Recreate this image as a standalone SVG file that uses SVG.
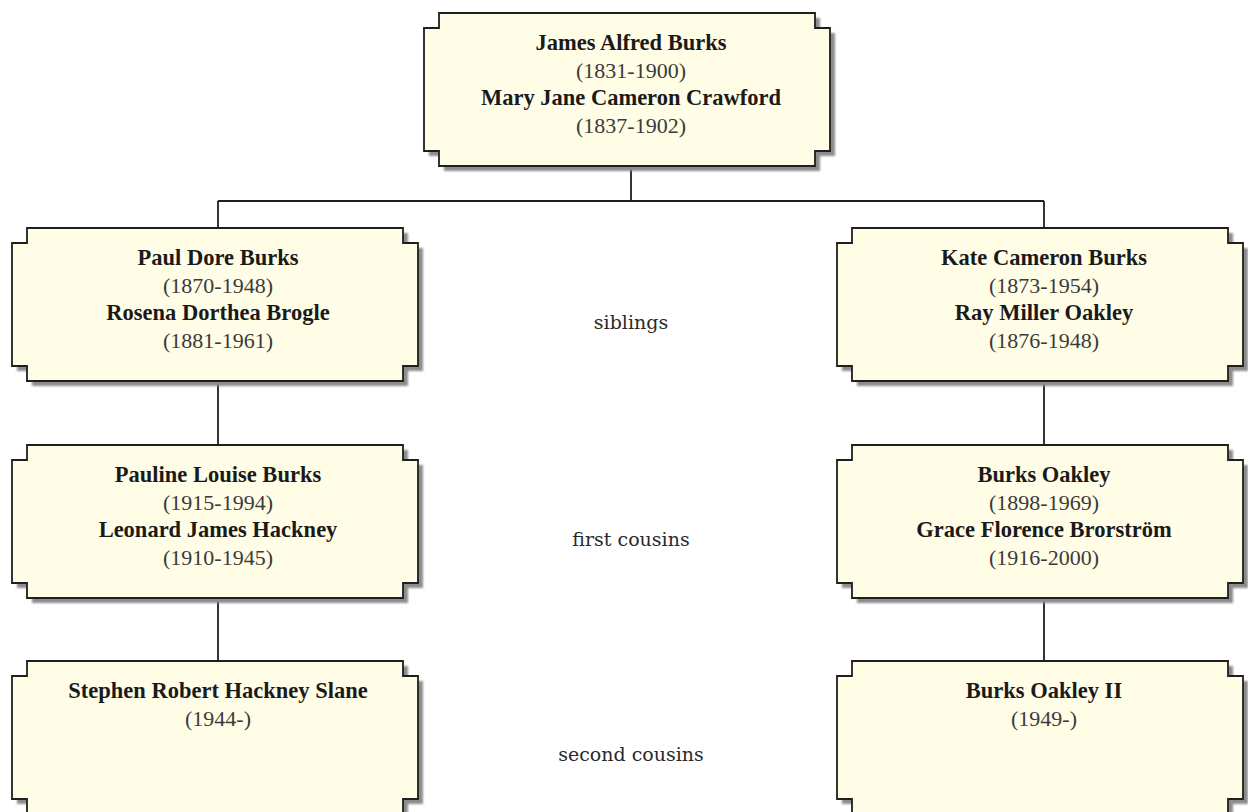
<svg xmlns="http://www.w3.org/2000/svg" width="1248" height="812" viewBox="0 0 1248 812">
<style>
.box{fill:#fffde6;stroke:#1e1e1e;stroke-width:1.8}
.shadow{fill:#8c8c8c;filter:url(#blur)}
.name{font-family:"Liberation Serif","Times New Roman",serif;font-weight:bold;font-size:22.5px;fill:#1a1a1a;text-anchor:middle}
.date{font-family:"Liberation Serif","Times New Roman",serif;font-size:22px;fill:#3a3a3a;text-anchor:middle}
.rel{font-family:"DejaVu Serif",serif;font-size:19px;fill:#2a2a2a;text-anchor:middle}
.conn{stroke:#1e1e1e;stroke-width:1.8;fill:none}
</style>
<defs>
<filter id="blur" x="-5%" y="-5%" width="110%" height="110%"><feGaussianBlur stdDeviation="1"/></filter>
<path id="shape" d="M15,0 H391 V15 H406 V138 H391 V153 H15 V138 H0 V15 H15 Z"/>
</defs>
<rect width="1248" height="812" fill="#ffffff"/>
<g id="connectors">
<path class="conn" d="M631,166 V201 M218,201 H1044 M218,201 V228 M1044,201 V228"/>
<path class="conn" d="M218,381 V445 M218,598 V661"/>
<path class="conn" d="M1044,381 V445 M1044,598 V661"/>
</g>
<g id="n-top" transform="translate(424,13)">
<use href="#shape" class="shadow" x="5" y="5"/>
<use href="#shape" class="box"/>
<text class="name" x="207" y="37">James Alfred Burks</text>
<text class="date" x="207" y="65">(1831-1900)</text>
<text class="name" x="207" y="92">Mary Jane Cameron Crawford</text>
<text class="date" x="207" y="120">(1837-1902)</text>
</g>
<g id="n-paul" transform="translate(12,228)">
<use href="#shape" class="shadow" x="5" y="5"/>
<use href="#shape" class="box"/>
<text class="name" x="206" y="37">Paul Dore Burks</text>
<text class="date" x="206" y="65">(1870-1948)</text>
<text class="name" x="206" y="92">Rosena Dorthea Brogle</text>
<text class="date" x="206" y="120">(1881-1961)</text>
</g>
<g id="n-kate" transform="translate(837,228)">
<use href="#shape" class="shadow" x="5" y="5"/>
<use href="#shape" class="box"/>
<text class="name" x="207" y="37">Kate Cameron Burks</text>
<text class="date" x="207" y="65">(1873-1954)</text>
<text class="name" x="207" y="92">Ray Miller Oakley</text>
<text class="date" x="207" y="120">(1876-1948)</text>
</g>
<g id="n-pauline" transform="translate(12,445)">
<use href="#shape" class="shadow" x="5" y="5"/>
<use href="#shape" class="box"/>
<text class="name" x="206" y="37">Pauline Louise Burks</text>
<text class="date" x="206" y="65">(1915-1994)</text>
<text class="name" x="206" y="92">Leonard James Hackney</text>
<text class="date" x="206" y="120">(1910-1945)</text>
</g>
<g id="n-burks" transform="translate(837,445)">
<use href="#shape" class="shadow" x="5" y="5"/>
<use href="#shape" class="box"/>
<text class="name" x="207" y="37">Burks Oakley</text>
<text class="date" x="207" y="65">(1898-1969)</text>
<text class="name" x="207" y="92">Grace Florence Brorström</text>
<text class="date" x="207" y="120">(1916-2000)</text>
</g>
<g id="n-stephen" transform="translate(12,661)">
<use href="#shape" class="shadow" x="5" y="5"/>
<use href="#shape" class="box"/>
<text class="name" x="206" y="37">Stephen Robert Hackney Slane</text>
<text class="date" x="206" y="65">(1944-)</text>
</g>
<g id="n-burks2" transform="translate(837,661)">
<use href="#shape" class="shadow" x="5" y="5"/>
<use href="#shape" class="box"/>
<text class="name" x="207" y="37">Burks Oakley II</text>
<text class="date" x="207" y="65">(1949-)</text>
</g>
<g id="labels">
<text class="rel" x="631" y="329">siblings</text>
<text class="rel" x="631" y="546">first cousins</text>
<text class="rel" x="631" y="761">second cousins</text>
</g>
</svg>
